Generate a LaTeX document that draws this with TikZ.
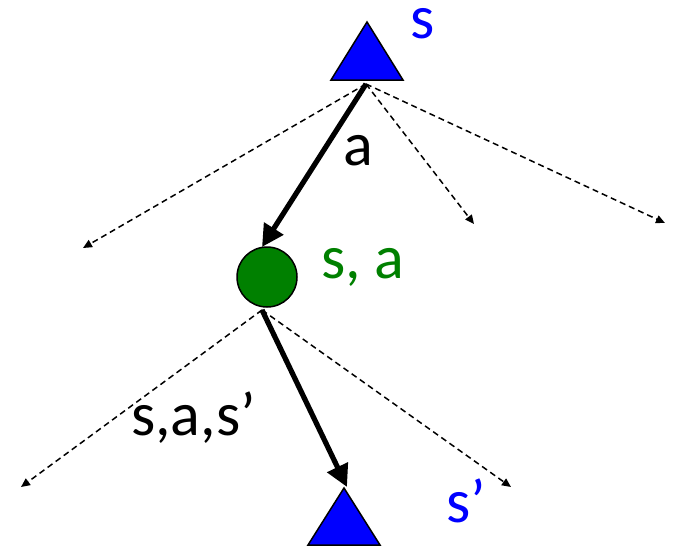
\documentclass[tikz,border=0pt]{standalone}
\usepackage{fontspec}
\setmainfont{Carlito}
\usetikzlibrary{arrows.meta}
\definecolor{tblue}{RGB}{0,0,255}
\definecolor{tgreen}{RGB}{0,128,0}
\tikzset{
  dashline/.style={line width=1.5pt, dash pattern=on 6pt off 4pt, -{Triangle[length=9pt,width=8pt]}},
  mainline/.style={line width=5.2pt, -{Triangle[length=22pt,width=22pt]}},
  tri/.style={fill=tblue, draw=black, line width=1.5pt, line join=miter},
  lbl/.style={font=\fontsize{62}{68}\selectfont, inner sep=0pt, anchor=base west},
}
\begin{document}
\begin{tikzpicture}[x=1pt,y=-1pt]
\useasboundingbox (0,0) rectangle (675,547);
% top triangle
\draw[tri] (367,22) -- (403,80) -- (331,80) -- cycle;
\coordinate (top) at (366,84);
\node[lbl, text=tblue] (sl) at (410,38) {s};
% circle
\node[circle, fill=tgreen, draw=black, line width=1.5pt, minimum size=60pt, inner sep=0pt] (q) at (267,277) {};
\node[lbl, text=tgreen] (sal) at (321,278) {s, a};
% bottom triangle
\draw[tri] (344,488) -- (380,545) -- (308,545) -- cycle;
\coordinate (bot) at (347,487);
\node[lbl, text=tblue] (spl) at (446,522) {s’};
% free ends
\coordinate (d1) at (83,248);
\coordinate (d2) at (474,224);
\coordinate (d3) at (665,223);
\coordinate (d4) at (21,487);
\coordinate (d5) at (511,487);
\coordinate (qb) at (262,310);
\coordinate (qt) at (262,247);
% dashed
\draw[dashline] (top) -- (d1);
\draw[dashline] (top) -- (d2);
\draw[dashline] (top) -- (d3);
\draw[dashline] (qb) -- (d4);
\draw[dashline] (qb) -- (d5);
% solid
\draw[mainline] (top) -- (qt);
\draw[mainline] (qb) -- (bot);
\node[lbl] (al) at (343,165) {a};
\node[lbl] (sasl) at (131,435) {s,a,s’};
\end{tikzpicture}
\end{document}
